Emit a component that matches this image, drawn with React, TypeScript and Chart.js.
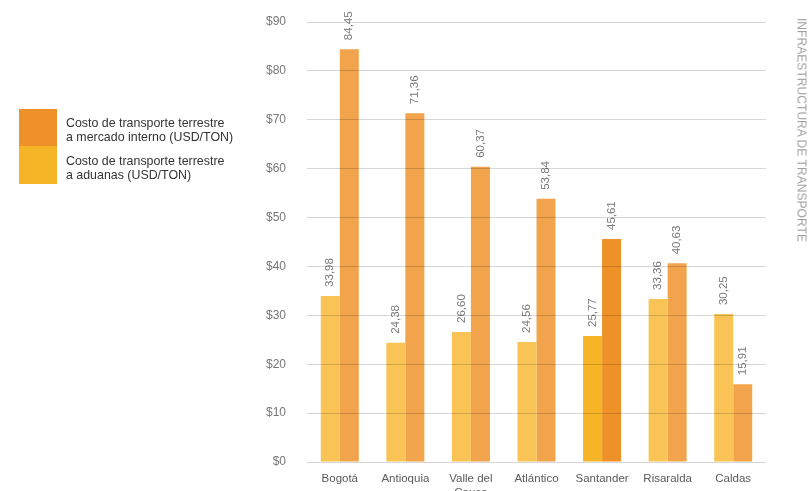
import React, { useEffect, useRef } from "react";
import { Chart, registerables } from "chart.js";

Chart.register(...registerables);

const categories: (string | string[])[] = ["Bogotá", "Antioquia", ["Valle del", "Cauca"], "Atlántico", "Santander", "Risaralda", "Caldas"];
const aduanas = [33.98, 24.38, 26.6, 24.56, 25.77, 33.36, 30.25];
const mercado = [84.45, 71.36, 60.37, 53.84, 45.61, 40.63, 15.91];
const yTicks = [0, 10, 20, 30, 40, 50, 60, 70, 80, 90];
const legendLabels = [
  ["Costo de transporte terrestre", "a mercado interno (USD/TON)"],
  ["Costo de transporte terrestre", "a aduanas (USD/TON)"],
];
const sideTitle = "INFRAESTRUCTURA DE TRANSPORTE";

const FONT = "'Liberation Sans', Arial, sans-serif";
const highlightIndex = 4;
const yellowLight = "#F9C455";
const orangeLight = "#F2A44C";
const yellowStrong = "#F6B427";
const orangeStrong = "#EF9129";

const labelPlugin = {
  id: "barValueLabels",
  afterDatasetsDraw(chart: any) {
    const ctx = chart.ctx;
    ctx.save();
    ctx.font = `11.5px ${FONT}`;
    ctx.fillStyle = "#7a7a7a";
    ctx.textAlign = "left";
    ctx.textBaseline = "middle";
    chart.data.datasets.forEach((ds: any, di: number) => {
      const meta = chart.getDatasetMeta(di);
      meta.data.forEach((bar: any, i: number) => {
        const v = ds.data[i] as number;
        const txt = v.toFixed(2).replace(".", ",");
        ctx.save();
        ctx.translate(bar.x, bar.y - 9);
        ctx.rotate(-Math.PI / 2);
        ctx.fillText(txt, 0, 0);
        ctx.restore();
      });
    });
    ctx.restore();
  },
};

export default function App() {
  const ref = useRef<HTMLCanvasElement>(null);
  useEffect(() => {
    if (!ref.current) return;
    const chart = new Chart(ref.current, {
      type: "bar",
      data: {
        labels: categories,
        datasets: [
          {
            label: "aduanas",
            data: aduanas,
            backgroundColor: aduanas.map((_, i) => (i === highlightIndex ? yellowStrong : yellowLight)),
            barPercentage: 1,
            categoryPercentage: 0.58,
          },
          {
            label: "mercado",
            data: mercado,
            backgroundColor: mercado.map((_, i) => (i === highlightIndex ? orangeStrong : orangeLight)),
            barPercentage: 1,
            categoryPercentage: 0.58,
          },
        ],
      },
      options: {
        animation: false,
        responsive: false,
        maintainAspectRatio: false,
        layout: { autoPadding: false, padding: { left: 247, right: 42, top: 22, bottom: 0 } },
        plugins: { legend: { display: false }, tooltip: { enabled: false } },
        scales: {
          x: {
            grid: { display: false },
            border: { display: false },
            ticks: { color: "#5a5a5a", font: { family: FONT, size: 11.5 }, padding: 2, maxRotation: 0, autoSkip: false },
            afterFit: (s: any) => {
              s.height = 29;
            },
          },
          y: {
            min: 0,
            max: 90,
            afterBuildTicks: (s: any) => {
              s.ticks = yTicks.map((v) => ({ value: v }));
            },
            grid: { color: "rgba(0,0,0,0.16)", drawTicks: false, z: 1 },
            border: { display: false },
            ticks: {
              color: "#777",
              font: { family: FONT, size: 12 },
              padding: 21,
              callback: (v: any) => "$" + v,
            },
            afterFit: (s: any) => {
              s.width = 60;
              s.paddingTop = 0;
              s.paddingBottom = 0;
            },
          },
        },
      },
      plugins: [labelPlugin],
    });
    return () => chart.destroy();
  }, []);

  return (
    <div style={{ position: "fixed", left: 0, top: 0, width: 808, height: 491, background: "#fff", overflow: "hidden", fontFamily: FONT }}>
      <canvas ref={ref} width={808} height={491} style={{ position: "absolute", left: 0, top: 0 }} />
      <div style={{ position: "absolute", left: 19, top: 109, width: 38, height: 37, background: orangeStrong }} />
      <div style={{ position: "absolute", left: 19, top: 146, width: 38, height: 38, background: yellowStrong }} />
      <div style={{ position: "absolute", left: 66, top: 117, fontSize: 12.4, lineHeight: "13.5px", color: "#333" }}>
        {legendLabels[0].map((l, i) => (
          <div key={i}>{l}</div>
        ))}
      </div>
      <div style={{ position: "absolute", left: 66, top: 155, fontSize: 12.4, lineHeight: "13.5px", color: "#333" }}>
        {legendLabels[1].map((l, i) => (
          <div key={i}>{l}</div>
        ))}
      </div>
      <div
        style={{
          position: "absolute",
          left: 801,
          top: 18,
          transformOrigin: "0 0",
          transform: "rotate(90deg) translateY(-50%)",
          whiteSpace: "nowrap",
          fontSize: 12.1,
          color: "#a0a0a0",
          lineHeight: "13px",
        }}
      >
        {sideTitle}
      </div>
    </div>
  );
}
